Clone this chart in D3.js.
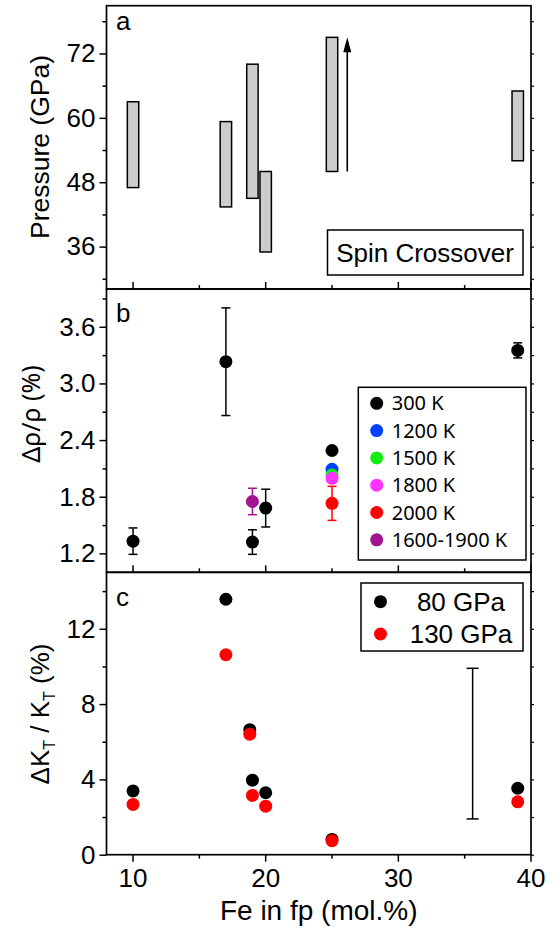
<!DOCTYPE html>
<html>
<head>
<meta charset="utf-8">
<script src="https://cdn.jsdelivr.net/npm/d3@7"></script>
<style>
  body { margin: 0; background: #fff; }
  svg text { font-family: "Liberation Sans", Arial, sans-serif; fill: #000; }
  .legendB text { font-family: "Noto Sans", "Open Sans", sans-serif; }
</style>
</head>
<body>
<div id="chart"></div>
<script>
// ---- data ----
// panel a: spin crossover pressure ranges
var feA = [10, 17, 19, 20, 25, 39];
var pLow = [47, 43.4, 45, 35, 50, 52];
var pHigh = [63, 59.3, 70, 50, 75, 65];
var arrowFe = 26.15;
var arrowP = [50, 75];

// panel b: density change, series by temperature
var fe300 = [10, 17, 19, 20, 25, 39];
var rho300 = [1.33, 3.23, 1.32, 1.68, 2.29, 3.35];
var err300 = [0.14, 0.57, 0.13, 0.2, 0, 0.08];
var tempLabels = ["300 K", "1200 K", "1500 K", "1800 K", "2000 K", "1600-1900 K"];
var tempColors = ["#000000", "#0040ff", "#11ee11", "#ff33ff", "#ff0000", "#a0148f"];
var feHot = [25, 25, 25, 25, 19];
var rhoHot = [2.09, 2.03, 1.995, 1.73, 1.75];
var errHot = [0, 0, 0, 0.18, 0.14];
var hotSeries = [1, 2, 3, 4, 5]; // index into tempLabels

// panel c: bulk modulus change
var feC = [10, 17, 18.8, 19, 20, 25, 39];
var k80 = [3.39, 13.57, 6.64, 3.96, 3.29, 0.81, 3.53];
var k130 = [2.67, 10.62, 6.4, 3.15, 2.58, 0.74, 2.81];
var pressLabels = ["80 GPa", "130 GPa"];
var pressColors = ["#000000", "#ff0000"];
var repErr = { fe: 35.6, value: 5.9, half: 4.0 };

// tick values
var xTicks = [10, 20, 30, 40];
var xMinor = [15, 25, 35];
var aTicks = [36, 48, 60, 72], aMinor = [30, 42, 54, 66, 78];
var bTicks = [1.2, 1.8, 2.4, 3.0, 3.6], bMinor = [1.5, 2.1, 2.7, 3.3, 3.9];
var cTicks = [0, 4, 8, 12], cMinor = [2, 6, 10, 14];

// ---- layout ----
var svgWidth = 557, svgHeight = 929;
var left = 106.5, right = 531;
var panelTop = [5.7, 289, 572.3], panelBottom = [289, 572.3, 854.7];
var dotR = 6.5;

var svg = d3.select("#chart").append("svg")
  .attr("width", svgWidth)
  .attr("height", svgHeight);

var x = d3.scaleLinear().domain([8, 40]).range([left, right]);
var yA = d3.scaleLinear().domain([28.1, 80.9]).range([panelBottom[0], panelTop[0]]);
var yB = d3.scaleLinear().domain([1, 4]).range([panelBottom[1], panelTop[1]]);
var yC = d3.scaleLinear().domain([0, 15]).range([panelBottom[2], panelTop[2]]);

// draws the left axis, right ticks and frame of one panel
function drawFrame(i, y, ticks, minor, fmt, tickDir) {
  var g = svg.append("g");
  g.append("g")
    .attr("transform", `translate(${left},0)`)
    .call(d3.axisLeft(y).tickValues(ticks).tickFormat(fmt).tickSize(7).tickPadding(4))
    .call(a => a.select(".domain").remove())
    .call(a => a.selectAll("line").attr("stroke-width", 1.5))
    .call(a => a.selectAll("text").attr("font-size", 26).attr("font-family", null));
  g.append("g")
    .attr("transform", `translate(${left},0)`)
    .call(d3.axisLeft(y).tickValues(minor).tickFormat("").tickSize(4))
    .call(a => a.select(".domain").remove())
    .call(a => a.selectAll("line").attr("stroke-width", 1.5));
  // small right-side ticks
  g.append("g")
    .attr("transform", `translate(${right},0)`)
    .call(d3.axisRight(y).tickValues(ticks.concat(minor)).tickFormat("").tickSize(3))
    .call(a => a.select(".domain").remove())
    .call(a => a.selectAll("line").attr("stroke-width", 1.2));
  // bottom ticks
  var yb = panelBottom[i];
  g.selectAll(".xt").data(xTicks).enter().append("line")
    .attr("x1", d => x(d)).attr("x2", d => x(d))
    .attr("y1", yb).attr("y2", yb + tickDir * 7)
    .attr("stroke", "#000").attr("stroke-width", 1.5);
  g.selectAll(".xm").data(xMinor).enter().append("line")
    .attr("x1", d => x(d)).attr("x2", d => x(d))
    .attr("y1", yb).attr("y2", yb + tickDir * 4)
    .attr("stroke", "#000").attr("stroke-width", 1.5);
  g.append("rect")
    .attr("x", left).attr("y", panelTop[i])
    .attr("width", right - left).attr("height", panelBottom[i] - panelTop[i])
    .attr("fill", "none").attr("stroke", "#000").attr("stroke-width", 1.7);
  return g;
}

drawFrame(0, yA, aTicks, aMinor, d3.format("d"), -1);
drawFrame(1, yB, bTicks, bMinor, d3.format(".1f"), -1);
drawFrame(2, yC, cTicks, cMinor, d3.format("d"), 1);

// x axis labels (bottom panel only)
svg.selectAll(".xlab").data(xTicks).enter().append("text")
  .attr("x", d => x(d)).attr("y", 887)
  .attr("text-anchor", "middle").attr("font-size", 26)
  .text(d => d);
svg.append("text")
  .attr("x", (left + right) / 2).attr("y", 920)
  .attr("text-anchor", "middle").attr("font-size", 28)
  .text("Fe in fp (mol.%)");

// y axis titles
svg.append("text")
  .attr("transform", "translate(49,147) rotate(-90)")
  .attr("text-anchor", "middle").attr("font-size", 26.5)
  .text("Pressure (GPa)");
svg.append("text")
  .attr("transform", "translate(40,414) rotate(-90)")
  .attr("text-anchor", "middle").attr("font-size", 25)
  .style("font-family", "'Noto Sans', sans-serif")
  .text("\u0394\u03c1/\u03c1 (%)");
var kt = svg.append("text")
  .attr("transform", "translate(49,714) rotate(-90)")
  .attr("text-anchor", "middle").attr("font-size", 26);
kt.append("tspan").text("\u0394K");
kt.append("tspan").attr("font-size", 16).attr("dy", 6).text("T");
kt.append("tspan").attr("dy", -6).text(" / K");
kt.append("tspan").attr("font-size", 16).attr("dy", 6).text("T");
kt.append("tspan").attr("dy", -6).text(" (%)");

// panel letters
svg.append("text").attr("x", 116).attr("y", 30).attr("font-size", 26).text("a");
svg.append("text").attr("x", 116).attr("y", 322).attr("font-size", 26).text("b");
svg.append("text").attr("x", 116).attr("y", 606).attr("font-size", 26).text("c");

// ---- panel a: crossover bars ----
var barW = 0.86;
svg.append("g").selectAll("rect").data(feA).enter().append("rect")
  .attr("x", d => x(d - barW / 2))
  .attr("width", x(barW) - x(0))
  .attr("y", (d, i) => yA(pHigh[i]))
  .attr("height", (d, i) => yA(pLow[i]) - yA(pHigh[i]))
  .attr("fill", "#cccccc").attr("stroke", "#000").attr("stroke-width", 1.5);

// arrow
svg.append("line")
  .attr("x1", x(arrowFe)).attr("x2", x(arrowFe))
  .attr("y1", yA(arrowP[0])).attr("y2", yA(arrowP[1]) + 14)
  .attr("stroke", "#000").attr("stroke-width", 1.6);
svg.append("path")
  .attr("d", `M${x(arrowFe)},${yA(arrowP[1])} l4,15 l-8,0 Z`)
  .attr("fill", "#000");

// spin crossover label box
svg.append("rect")
  .attr("x", 327.5).attr("y", 230).attr("width", 195.5).attr("height", 45)
  .attr("fill", "#fff").attr("stroke", "#000").attr("stroke-width", 1.5);
svg.append("text")
  .attr("x", 425).attr("y", 262).attr("text-anchor", "middle").attr("font-size", 26)
  .text("Spin Crossover");

// ---- panel b ----
function errBar(g, xs, ys, es, yScale, color, cap) {
  xs.forEach(function(d, i) {
    if (!es[i]) return;
    var xp = x(d), y0 = yScale(ys[i] - es[i]), y1 = yScale(ys[i] + es[i]);
    g.append("line").attr("x1", xp).attr("x2", xp).attr("y1", y0).attr("y2", y1)
      .attr("stroke", color).attr("stroke-width", 1.5);
    [y0, y1].forEach(function(yy) {
      g.append("line").attr("x1", xp - cap).attr("x2", xp + cap).attr("y1", yy).attr("y2", yy)
        .attr("stroke", color).attr("stroke-width", 1.5);
    });
  });
}

var gB = svg.append("g");
errBar(gB, fe300, rho300, err300, yB, tempColors[0], 4.5);
gB.selectAll(".p300").data(fe300).enter().append("circle")
  .attr("cx", d => x(d)).attr("cy", (d, i) => yB(rho300[i]))
  .attr("r", dotR).attr("fill", tempColors[0]);
feHot.forEach(function(d, i) {
  var c = tempColors[hotSeries[i]];
  errBar(gB, [d], [rhoHot[i]], [errHot[i]], yB, c, 4.5);
  gB.append("circle").attr("cx", x(d)).attr("cy", yB(rhoHot[i]))
    .attr("r", dotR).attr("fill", c);
});

// legend b
var legB = svg.append("g").attr("class", "legendB");
legB.append("rect")
  .attr("x", 358.3).attr("y", 387.3).attr("width", 167.7).attr("height", 172.7)
  .attr("fill", "#fff").attr("stroke", "#000").attr("stroke-width", 1.5);
tempLabels.forEach(function(lab, i) {
  var ry = 403.3 + i * 27.3;
  legB.append("circle").attr("cx", 376.7).attr("cy", ry).attr("r", dotR).attr("fill", tempColors[i]);
  legB.append("text").attr("x", 391.7).attr("y", ry + 7).attr("font-size", 20).text(lab);
});

// ---- panel c ----
var gC = svg.append("g");
gC.selectAll(".k80").data(feC).enter().append("circle")
  .attr("cx", d => x(d)).attr("cy", (d, i) => yC(k80[i]))
  .attr("r", dotR).attr("fill", pressColors[0]);
gC.selectAll(".k130").data(feC).enter().append("circle")
  .attr("cx", d => x(d)).attr("cy", (d, i) => yC(k130[i]))
  .attr("r", dotR).attr("fill", pressColors[1]);
errBar(gC, [repErr.fe], [repErr.value], [repErr.half], yC, "#000", 6);

// legend c
var legC = svg.append("g");
legC.append("rect")
  .attr("x", 361).attr("y", 583).attr("width", 162).attr("height", 68)
  .attr("fill", "#fff").attr("stroke", "#000").attr("stroke-width", 1.5);
pressLabels.forEach(function(lab, i) {
  var ry = 601.7 + i * 32.3;
  legC.append("circle").attr("cx", 380.5).attr("cy", ry).attr("r", dotR).attr("fill", pressColors[i]);
  legC.append("text").attr("x", 461).attr("y", ry + 9).attr("text-anchor", "middle")
    .attr("font-size", 26).text(lab);
});
</script>
</body>
</html>
